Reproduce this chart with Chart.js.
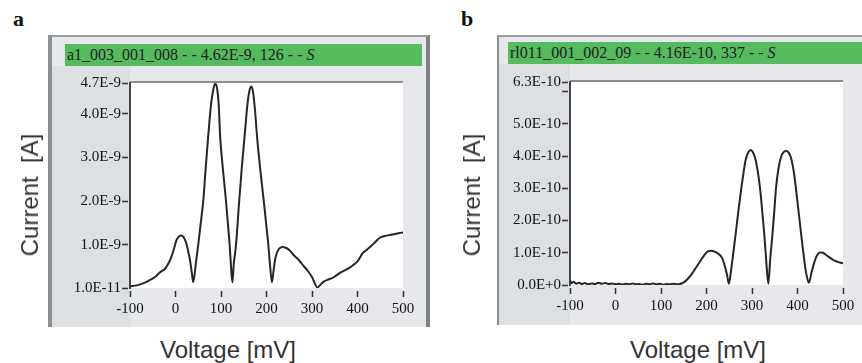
<!DOCTYPE html>
<html>
<head>
<meta charset="utf-8">
<script src="https://cdn.jsdelivr.net/npm/chart.js@4"></script>
<style>
body { margin:0; width:862px; height:363px; background:#fff; position:relative; overflow:hidden; }
.lbl { position:absolute; font:bold 22px "Liberation Serif", serif; color:#111; }
.frame { position:absolute; box-sizing:border-box; background:#e6e8eb; }
.margin { position:absolute; background:#dde0e3; }
.header { position:absolute; background:#56ba5f; font:16px "Liberation Serif", serif; color:#1e1e1e; line-height:22px; padding-left:2px; white-space:pre; overflow:hidden; box-sizing:border-box; }
.title { position:absolute; font:24px "Liberation Sans", Arial, sans-serif; color:#333; white-space:pre; transform:translate(-50%,-50%); }
.rot { transform:translate(-50%,-50%) rotate(-90deg); }
.box { position:absolute; }
</style>
</head>
<body>
<div class="lbl" style="left:13px; top:6px;">a</div>
<div class="lbl" style="left:461px; top:6px;">b</div>

<div class="frame" style="left:48px; top:35px; width:382px; height:292px; border-left:4px solid #8b8e92; border-top:2px solid #9a9da0; border-right:4px solid #7d8084;"></div>
<div class="margin" style="left:52px; top:66px; width:78px; height:261px;"></div>
<div class="header" style="left:65px; top:44px; width:357px; height:22px;">a1_003_001_008 - - 4.62E-9, 126 - - <i>S</i></div>

<div class="frame" style="left:497px; top:35px; width:380px; height:290px; border-left:2px solid #8b8e92; border-top:2px solid #9a9da0;"></div>
<div class="margin" style="left:499px; top:64px; width:71px; height:261px;"></div>
<div class="header" style="left:508px; top:42px; width:360px; height:22px;">rl011_001_002_09 - - 4.16E-10, 337 - - <i>S</i></div>

<div class="box" style="left:0; top:0; width:440px; height:330px;"><canvas id="chartA"></canvas></div>
<div class="box" style="left:440px; top:0; width:422px; height:330px;"><canvas id="chartB"></canvas></div>

<div class="title rot" style="left:30px; top:195px;">Current  [A]</div>
<div class="title rot" style="left:472px; top:195px;">Current  [A]</div>
<div class="title" style="left:228px; top:350px;">Voltage [mV]</div>
<div class="title" style="left:698px; top:350px;">Voltage [mV]</div>

<script>
// panel a: voltage (mV) and current (units of 1e-9 A)
const aVolt = [-100, -85, -70, -55, -45, -35, -23, -15, -9, -3, 2, 7, 12, 18, 24, 28, 32, 36, 39,
  45, 50, 55, 61, 66, 72, 78, 83, 87, 91, 95, 98, 104, 111, 115, 119, 122, 125,
  128, 133, 140, 146, 152, 158, 162, 166, 170, 175, 179, 186, 194, 200, 204, 208, 212,
  216, 220, 227, 235, 242, 250, 260, 272, 281, 290, 300, 306, 312,
  318, 325, 335, 345, 355, 365, 375, 382, 390, 400, 411, 420, 430, 440, 449, 460, 470, 480, 493, 500];
const aCurr = [0.05, 0.07, 0.12, 0.2, 0.26, 0.36, 0.45, 0.58, 0.72, 0.92, 1.1, 1.18, 1.21, 1.17, 1.02, 0.85, 0.64, 0.35, 0.14,
  0.6, 1.0, 1.45, 2.0, 2.7, 3.5, 4.2, 4.55, 4.68, 4.6, 4.2, 3.5, 2.75, 2.0, 1.5, 1.0, 0.5, 0.14,
  0.55, 1.0, 2.0, 2.8, 3.5, 4.2, 4.5, 4.62, 4.52, 4.05, 3.5, 2.75, 2.0, 1.4, 1.0, 0.5, 0.14,
  0.45, 0.72, 0.9, 0.95, 0.93, 0.88, 0.76, 0.64, 0.52, 0.41, 0.26, 0.12, 0.02,
  0.08, 0.15, 0.2, 0.24, 0.31, 0.38, 0.43, 0.47, 0.53, 0.62, 0.8, 0.88, 0.97, 1.07, 1.16, 1.2, 1.22, 1.24, 1.27, 1.28];
const aYTicks = [0.01, 1, 2, 3, 4, 4.7];
const aYLabels = ['1.0E-11', '1.0E-9', '2.0E-9', '3.0E-9', '4.0E-9', '4.7E-9'];

// panel b: voltage (mV) and current (units of 1e-10 A)
const bVolt = [-100, -97, -92, -86, -80, -74, -68, -60, -52, -45, -38, -30, -22, -15, -8, 0, 8, 15, 22, 30, 38, 45,
  52, 60, 68, 75, 82, 90, 98, 105, 112, 120, 128, 135, 142, 150, 158, 167, 175, 182, 190, 197, 203, 210, 217, 225,
  234, 240, 245, 249, 254, 259, 264, 271, 278, 286, 292, 297, 302, 308, 314, 319, 323, 327, 331, 336,
  340, 345, 349, 353, 358, 364, 370, 375, 381, 386, 392, 397, 403, 408, 412, 416, 420, 425,
  431, 438, 443, 449, 456, 463, 471, 478, 486, 493, 500];
const bCurr = [0.15, 0.06, 0.1, 0.04, 0.07, 0.03, 0.06, 0.02, 0.05, 0.03, 0.07, 0.04, 0.06, 0.03, 0.05, 0.02, 0.04, 0.01, 0.04, 0.02, 0.05, 0.02,
  0.03, 0.01, 0.04, 0.02, 0.05, 0.02, 0.04, 0.01, 0.03, 0.02, 0.04, 0.02, 0.03, 0.08, 0.18, 0.33, 0.5, 0.65, 0.82, 0.96, 1.04, 1.06, 1.04, 0.98,
  0.85, 0.6, 0.33, 0.04, 0.45, 1.0, 1.58, 2.4, 3.15, 3.88, 4.12, 4.19, 4.12, 3.88, 3.4, 2.83, 2.2, 1.58, 0.8, 0.04,
  0.8, 1.58, 2.3, 3.04, 3.6, 3.98, 4.13, 4.16, 4.1, 3.93, 3.5, 2.94, 2.2, 1.58, 1.1, 0.65, 0.3, 0.07,
  0.4, 0.75, 0.92, 1.01, 1.0, 0.93, 0.85, 0.78, 0.73, 0.7, 0.67];
const bYTicks = [0, 1, 2, 3, 4, 5, 6, 6.3];
const bYLabels = ['0.0E+0', '1.0E-10', '2.0E-10', '3.0E-10', '4.0E-10', '5.0E-10', '', '6.3E-10'];

const xTicks = [-100, 0, 100, 200, 300, 400, 500];
const xLabels = ['-100', '0', '100', '200', '300', '400', '500'];

const tickFont = { family: 'Liberation Serif', size: 15 };

// white plot area with a grey rule along its top
const plotBg = {
  id: 'plotBg',
  beforeDraw(chart) {
    const { ctx, chartArea: a } = chart;
    ctx.save();
    ctx.fillStyle = '#ffffff';
    ctx.fillRect(a.left, a.top, a.right - a.left, a.bottom - a.top);
    ctx.strokeStyle = '#8c8f92';
    ctx.lineWidth = 2;
    ctx.beginPath();
    ctx.moveTo(a.left, a.top - 1);
    ctx.lineTo(a.right, a.top - 1);
    ctx.stroke();
    ctx.restore();
  }
};

function makeConfig(volt, curr, yTicks, yLabels, yMax, pad, xHeight) {
  return {
    type: 'line',
    data: {
      datasets: [{
        data: volt.map((v, i) => ({ x: v, y: curr[i] })),
        borderColor: '#262626',
        borderWidth: 2,
        pointRadius: 0,
        cubicInterpolationMode: 'monotone',
        fill: false
      }]
    },
    options: {
      responsive: true,
      maintainAspectRatio: false,
      animation: false,
      layout: { padding: pad },
      plugins: { legend: { display: false }, tooltip: { enabled: false } },
      scales: {
        x: {
          type: 'linear',
          min: -100,
          max: 500,
          afterBuildTicks: s => { s.ticks = xTicks.map(v => ({ value: v })); },
          afterFit: s => { s.height = xHeight; },
          grid: { drawOnChartArea: false, tickLength: 9, color: '#333', tickWidth: 1.5, tickBorderDash: [0, 3, 6] },
          border: { display: false },
          ticks: { font: tickFont, color: '#111', padding: 3, maxRotation: 0, autoSkip: false,
            callback: (v, i) => xLabels[i] }
        },
        y: {
          type: 'linear',
          min: yTicks[0],
          max: yMax,
          afterBuildTicks: s => { s.ticks = yTicks.map(v => ({ value: v })); },
          afterFit: s => { s.width = 130; },
          grid: { drawOnChartArea: false, tickLength: 8, color: '#333', tickWidth: 1.5, tickBorderDash: [6, 2] },
          border: { display: true, color: '#444', width: 2 },
          ticks: { font: tickFont, color: '#111', padding: 1, autoSkip: false,
            callback: (v, i) => yLabels[i] }
        }
      }
    },
    plugins: [plotBg]
  };
}

const chartA = new Chart(
  document.getElementById('chartA'),
  makeConfig(aVolt, aCurr, aYTicks, aYLabels, 4.7, { left: 0, top: 83, right: 37, bottom: 0 }, 42)
);

const chartB = new Chart(
  document.getElementById('chartB'),
  makeConfig(bVolt, bCurr, bYTicks, bYLabels, 6.3, { left: 0, top: 82, right: 19, bottom: 0 }, 45)
);
</script>
</body>
</html>
